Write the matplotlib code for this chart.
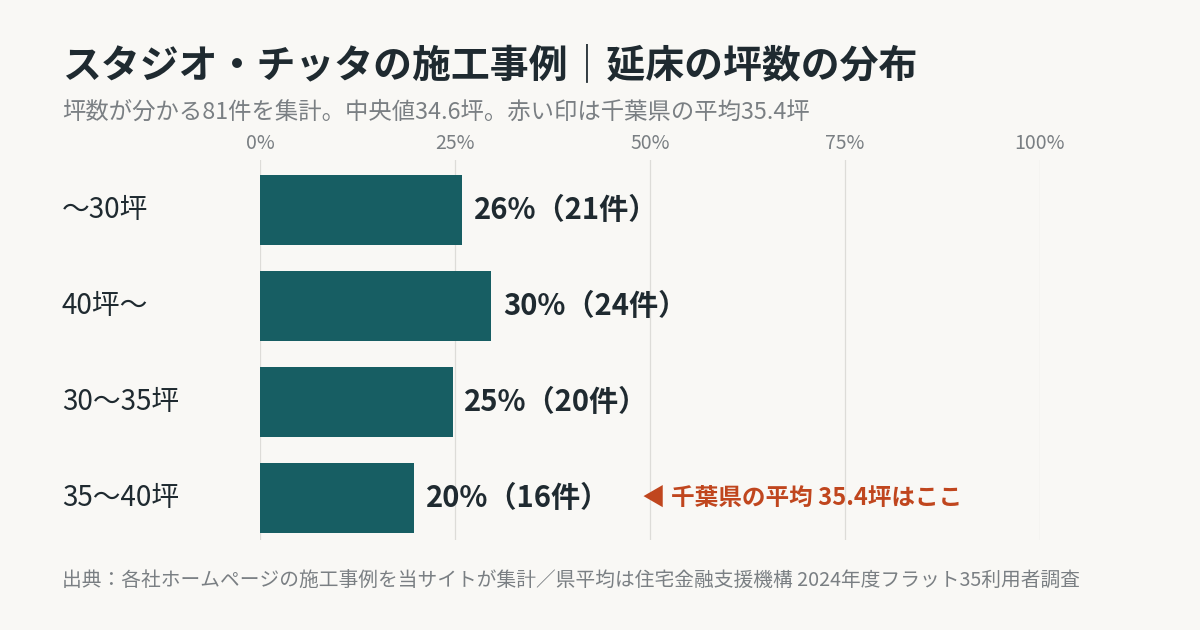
import matplotlib.pyplot as plt

plt.rcParams['font.family'] = ['Noto Sans CJK JP', 'DejaVu Sans']

categories = ["〜30坪", "40坪〜", "30〜35坪", "35〜40坪"]
counts = [21, 24, 20, 16]
total = 81
pct_labels = ["26%（21件）", "30%（24件）", "25%（20件）", "20%（16件）"]
xticks = [0, 25, 50, 75, 100]

BG = "#f9f8f5"
BAR = "#175e63"
DARK = "#1f2a30"
GRAY = "#7a7f83"
ACCENT = "#c0461e"

fig = plt.figure(figsize=(12, 6.3), dpi=100, facecolor=BG)
ax = fig.add_axes([260/1200, 1 - 540/630, 780/1200, 380/630])
ax.set_facecolor(BG)

values = [c / total * 100 for c in counts]
ypos = list(range(len(categories)))
ax.barh(ypos, values, height=0.73, color=BAR, zorder=3)

for y, v, lab in zip(ypos, values, pct_labels):
    ax.text(v + 1.5, y, lab, va="center", ha="left", fontsize=21,
            fontweight="bold", color=DARK)

for y, cat in zip(ypos, categories):
    ax.text(62/1200, 1 - (210 + 96*y)/630, cat, transform=fig.transFigure,
            va="center", ha="left", fontsize=20, color=DARK)

ax.text(49, 3, "◀ 千葉県の平均 35.4坪はここ", va="center", ha="left",
        fontsize=17, fontweight="bold", color=ACCENT)

ax.set_xlim(0, 100)
ax.set_ylim(3.44, -0.52)
ax.set_xticks(xticks)
ax.set_xticklabels([f"{t}%" for t in xticks], color=GRAY, fontsize=14)
ax.xaxis.tick_top()
ax.tick_params(axis="x", length=0, pad=4)
ax.set_yticks([])
ax.grid(axis="x", color="#dddcd8", linewidth=0.9, zorder=0)
for s in ax.spines.values():
    s.set_visible(False)

fig.text(62/1200, 1 - 66/630, "スタジオ・チッタの施工事例｜延床の坪数の分布",
         fontsize=28, fontweight="bold", color=DARK, va="center")
fig.text(62/1200, 1 - 112/630,
         "坪数が分かる81件を集計。中央値34.6坪。赤い印は千葉県の平均35.4坪",
         fontsize=16.8, color=GRAY, va="center")
fig.text(62/1200, 1 - 581/630,
         "出典：各社ホームページの施工事例を当サイトが集計／県平均は住宅金融支援機構 2024年度フラット35利用者調査",
         fontsize=14.2, color=GRAY, va="center")

fig.savefig("out.png", dpi=100, facecolor=BG)
